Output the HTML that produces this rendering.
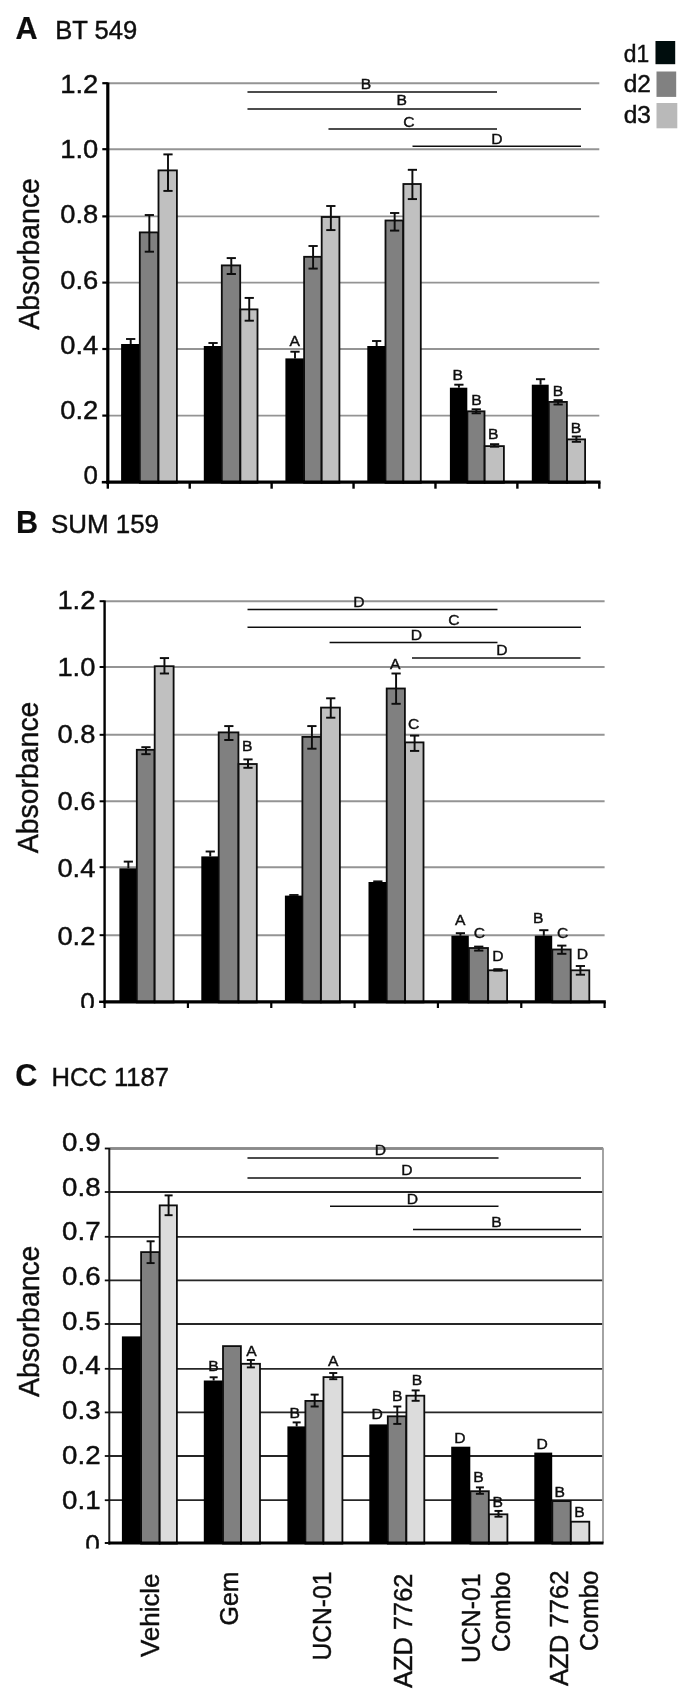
<!DOCTYPE html>
<html><head><meta charset="utf-8"><title>Figure</title>
<style>
html,body{margin:0;padding:0;background:#fff;}
svg{display:block;font-family:"Liberation Sans", sans-serif;}
</style></head><body>
<svg width="685" height="1700" viewBox="0 0 685 1700">
<defs><filter id="soft" x="0" y="0" width="685" height="1700" filterUnits="userSpaceOnUse"><feGaussianBlur stdDeviation="0.45"/></filter></defs>
<rect x="0" y="0" width="685" height="1700" fill="#fff"/>
<g filter="url(#soft)">
<line x1="107.8" y1="415.6" x2="599.3" y2="415.6" stroke="#949494" stroke-width="1.9"/>
<line x1="107.8" y1="349" x2="599.3" y2="349" stroke="#949494" stroke-width="1.9"/>
<line x1="107.8" y1="282.6" x2="599.3" y2="282.6" stroke="#949494" stroke-width="1.9"/>
<line x1="107.8" y1="216.4" x2="599.3" y2="216.4" stroke="#949494" stroke-width="1.9"/>
<line x1="107.8" y1="149.2" x2="599.3" y2="149.2" stroke="#949494" stroke-width="1.9"/>
<line x1="107.8" y1="83.2" x2="599.3" y2="83.2" stroke="#949494" stroke-width="1.9"/>
<rect x="121.1" y="344" width="18.6" height="138.2" fill="#000000"/>
<rect x="139.8" y="232.4" width="18.5" height="250.4" fill="#808080" stroke="#0c0c0c" stroke-width="1.8"/>
<rect x="158.5" y="170.4" width="18.4" height="312.4" fill="#c0c0c0" stroke="#0c0c0c" stroke-width="1.8"/>
<rect x="203.8" y="346" width="17.9" height="136.2" fill="#000000"/>
<rect x="221.8" y="265.4" width="18.4" height="217.4" fill="#808080" stroke="#0c0c0c" stroke-width="1.8"/>
<rect x="240.4" y="309.4" width="17.1" height="173.4" fill="#c0c0c0" stroke="#0c0c0c" stroke-width="1.8"/>
<rect x="285.4" y="358.4" width="18.6" height="123.8" fill="#000000"/>
<rect x="304.1" y="256.8" width="17.4" height="226.0" fill="#808080" stroke="#0c0c0c" stroke-width="1.8"/>
<rect x="321.7" y="217.0" width="17.7" height="265.8" fill="#c0c0c0" stroke="#0c0c0c" stroke-width="1.8"/>
<rect x="367.3" y="346" width="18.1" height="136.2" fill="#000000"/>
<rect x="385.5" y="220.5" width="17.7" height="262.3" fill="#808080" stroke="#0c0c0c" stroke-width="1.8"/>
<rect x="403.4" y="184.0" width="17.4" height="298.8" fill="#c0c0c0" stroke="#0c0c0c" stroke-width="1.8"/>
<rect x="449.9" y="387.7" width="17.4" height="94.5" fill="#000000"/>
<rect x="467.4" y="411.3" width="17.1" height="71.5" fill="#808080" stroke="#0c0c0c" stroke-width="1.8"/>
<rect x="484.7" y="446.1" width="19.2" height="36.7" fill="#c0c0c0" stroke="#0c0c0c" stroke-width="1.8"/>
<rect x="531.8" y="384.7" width="16.9" height="97.5" fill="#000000"/>
<rect x="548.8" y="401.9" width="18.1" height="80.9" fill="#808080" stroke="#0c0c0c" stroke-width="1.8"/>
<rect x="567.1" y="439.4" width="18.0" height="43.4" fill="#c0c0c0" stroke="#0c0c0c" stroke-width="1.8"/>
<line x1="130.7" y1="339" x2="130.7" y2="344" stroke="#080808" stroke-width="1.9"/>
<line x1="126.1" y1="339" x2="135.29999999999998" y2="339" stroke="#080808" stroke-width="1.9"/>
<line x1="149.35" y1="215" x2="149.35" y2="251.7" stroke="#080808" stroke-width="1.9"/>
<line x1="144.75" y1="215" x2="153.95" y2="215" stroke="#080808" stroke-width="1.9"/>
<line x1="144.75" y1="251.7" x2="153.95" y2="251.7" stroke="#080808" stroke-width="1.9"/>
<line x1="168.0" y1="154.4" x2="168.0" y2="190.9" stroke="#080808" stroke-width="1.9"/>
<line x1="163.4" y1="154.4" x2="172.6" y2="154.4" stroke="#080808" stroke-width="1.9"/>
<line x1="163.4" y1="190.9" x2="172.6" y2="190.9" stroke="#080808" stroke-width="1.9"/>
<line x1="213.05" y1="343" x2="213.05" y2="346" stroke="#080808" stroke-width="1.9"/>
<line x1="208.45000000000002" y1="343" x2="217.65" y2="343" stroke="#080808" stroke-width="1.9"/>
<line x1="231.3" y1="258.1" x2="231.3" y2="274" stroke="#080808" stroke-width="1.9"/>
<line x1="226.70000000000002" y1="258.1" x2="235.9" y2="258.1" stroke="#080808" stroke-width="1.9"/>
<line x1="226.70000000000002" y1="274" x2="235.9" y2="274" stroke="#080808" stroke-width="1.9"/>
<line x1="249.25" y1="297.9" x2="249.25" y2="320.7" stroke="#080808" stroke-width="1.9"/>
<line x1="244.65" y1="297.9" x2="253.85" y2="297.9" stroke="#080808" stroke-width="1.9"/>
<line x1="244.65" y1="320.7" x2="253.85" y2="320.7" stroke="#080808" stroke-width="1.9"/>
<line x1="295.0" y1="351.7" x2="295.0" y2="358.4" stroke="#080808" stroke-width="1.9"/>
<line x1="290.4" y1="351.7" x2="299.6" y2="351.7" stroke="#080808" stroke-width="1.9"/>
<line x1="313.1" y1="246" x2="313.1" y2="268.6" stroke="#080808" stroke-width="1.9"/>
<line x1="308.5" y1="246" x2="317.70000000000005" y2="246" stroke="#080808" stroke-width="1.9"/>
<line x1="308.5" y1="268.6" x2="317.70000000000005" y2="268.6" stroke="#080808" stroke-width="1.9"/>
<line x1="330.85" y1="206" x2="330.85" y2="230.1" stroke="#080808" stroke-width="1.9"/>
<line x1="326.25" y1="206" x2="335.45000000000005" y2="206" stroke="#080808" stroke-width="1.9"/>
<line x1="326.25" y1="230.1" x2="335.45000000000005" y2="230.1" stroke="#080808" stroke-width="1.9"/>
<line x1="376.65" y1="341" x2="376.65" y2="346" stroke="#080808" stroke-width="1.9"/>
<line x1="372.04999999999995" y1="341" x2="381.25" y2="341" stroke="#080808" stroke-width="1.9"/>
<line x1="394.65" y1="213" x2="394.65" y2="230.6" stroke="#080808" stroke-width="1.9"/>
<line x1="390.04999999999995" y1="213" x2="399.25" y2="213" stroke="#080808" stroke-width="1.9"/>
<line x1="390.04999999999995" y1="230.6" x2="399.25" y2="230.6" stroke="#080808" stroke-width="1.9"/>
<line x1="412.4" y1="169.8" x2="412.4" y2="199.1" stroke="#080808" stroke-width="1.9"/>
<line x1="407.79999999999995" y1="169.8" x2="417.0" y2="169.8" stroke="#080808" stroke-width="1.9"/>
<line x1="407.79999999999995" y1="199.1" x2="417.0" y2="199.1" stroke="#080808" stroke-width="1.9"/>
<line x1="458.9" y1="384.7" x2="458.9" y2="387.7" stroke="#080808" stroke-width="1.9"/>
<line x1="454.29999999999995" y1="384.7" x2="463.5" y2="384.7" stroke="#080808" stroke-width="1.9"/>
<line x1="476.25" y1="409.3" x2="476.25" y2="413.3" stroke="#080808" stroke-width="1.9"/>
<line x1="471.65" y1="409.3" x2="480.85" y2="409.3" stroke="#080808" stroke-width="1.9"/>
<line x1="471.65" y1="413.3" x2="480.85" y2="413.3" stroke="#080808" stroke-width="1.9"/>
<line x1="494.6" y1="444.2" x2="494.6" y2="446.7" stroke="#080808" stroke-width="1.9"/>
<line x1="490.0" y1="444.2" x2="499.20000000000005" y2="444.2" stroke="#080808" stroke-width="1.9"/>
<line x1="490.0" y1="446.7" x2="499.20000000000005" y2="446.7" stroke="#080808" stroke-width="1.9"/>
<line x1="540.55" y1="379.2" x2="540.55" y2="384.7" stroke="#080808" stroke-width="1.9"/>
<line x1="535.9499999999999" y1="379.2" x2="545.15" y2="379.2" stroke="#080808" stroke-width="1.9"/>
<line x1="558.15" y1="400.2" x2="558.15" y2="404.5" stroke="#080808" stroke-width="1.9"/>
<line x1="553.55" y1="400.2" x2="562.75" y2="400.2" stroke="#080808" stroke-width="1.9"/>
<line x1="553.55" y1="404.5" x2="562.75" y2="404.5" stroke="#080808" stroke-width="1.9"/>
<line x1="576.4" y1="436.5" x2="576.4" y2="441.8" stroke="#080808" stroke-width="1.9"/>
<line x1="571.8" y1="436.5" x2="581.0" y2="436.5" stroke="#080808" stroke-width="1.9"/>
<line x1="571.8" y1="441.8" x2="581.0" y2="441.8" stroke="#080808" stroke-width="1.9"/>
<line x1="107.8" y1="82.4" x2="107.8" y2="483.7" stroke="#000" stroke-width="3.2"/>
<line x1="106.2" y1="482.2" x2="600.5" y2="482.2" stroke="#000" stroke-width="3.2"/>
<line x1="102.3" y1="415.6" x2="107.8" y2="415.6" stroke="#000" stroke-width="2.2"/>
<line x1="102.3" y1="349" x2="107.8" y2="349" stroke="#000" stroke-width="2.2"/>
<line x1="102.3" y1="282.6" x2="107.8" y2="282.6" stroke="#000" stroke-width="2.2"/>
<line x1="102.3" y1="216.4" x2="107.8" y2="216.4" stroke="#000" stroke-width="2.2"/>
<line x1="102.3" y1="149.2" x2="107.8" y2="149.2" stroke="#000" stroke-width="2.2"/>
<line x1="102.3" y1="83.2" x2="107.8" y2="83.2" stroke="#000" stroke-width="2.2"/>
<line x1="101.8" y1="482.2" x2="107.8" y2="482.2" stroke="#000" stroke-width="2.6"/>
<line x1="107.8" y1="482.2" x2="107.8" y2="488.7" stroke="#000" stroke-width="2.4"/>
<line x1="189.72" y1="482.2" x2="189.72" y2="488.7" stroke="#000" stroke-width="2.4"/>
<line x1="271.63" y1="482.2" x2="271.63" y2="488.7" stroke="#000" stroke-width="2.4"/>
<line x1="353.55" y1="482.2" x2="353.55" y2="488.7" stroke="#000" stroke-width="2.4"/>
<line x1="435.47" y1="482.2" x2="435.47" y2="488.7" stroke="#000" stroke-width="2.4"/>
<line x1="517.38" y1="482.2" x2="517.38" y2="488.7" stroke="#000" stroke-width="2.4"/>
<line x1="599.3" y1="482.2" x2="599.3" y2="488.7" stroke="#000" stroke-width="2.4"/>
<text x="97.8" y="484.4" font-size="25" text-anchor="end" fill="#111" stroke="#111" stroke-width="0.45" textLength="14.4" lengthAdjust="spacingAndGlyphs">0</text>
<text x="98.3" y="419.2" font-size="25" text-anchor="end" fill="#111" stroke="#111" stroke-width="0.45" textLength="38" lengthAdjust="spacingAndGlyphs">0.2</text>
<text x="98.3" y="353.9" font-size="25" text-anchor="end" fill="#111" stroke="#111" stroke-width="0.45" textLength="38" lengthAdjust="spacingAndGlyphs">0.4</text>
<text x="98.3" y="288.7" font-size="25" text-anchor="end" fill="#111" stroke="#111" stroke-width="0.45" textLength="38" lengthAdjust="spacingAndGlyphs">0.6</text>
<text x="98.3" y="223.4" font-size="25" text-anchor="end" fill="#111" stroke="#111" stroke-width="0.45" textLength="38" lengthAdjust="spacingAndGlyphs">0.8</text>
<text x="98.3" y="158.3" font-size="25" text-anchor="end" fill="#111" stroke="#111" stroke-width="0.45" textLength="38" lengthAdjust="spacingAndGlyphs">1.0</text>
<text x="98.3" y="92.9" font-size="25" text-anchor="end" fill="#111" stroke="#111" stroke-width="0.45" textLength="38" lengthAdjust="spacingAndGlyphs">1.2</text>
<line x1="247.5" y1="91.9" x2="497" y2="91.9" stroke="#111" stroke-width="1.5"/>
<text x="366" y="88.7" font-size="14.5" text-anchor="middle" fill="#111" stroke="#111" stroke-width="0.4" textLength="10.45" lengthAdjust="spacingAndGlyphs">B</text>
<line x1="247.5" y1="108.9" x2="581" y2="108.9" stroke="#111" stroke-width="1.5"/>
<text x="401.7" y="105.3" font-size="14.5" text-anchor="middle" fill="#111" stroke="#111" stroke-width="0.4" textLength="10.45" lengthAdjust="spacingAndGlyphs">B</text>
<line x1="328.5" y1="128.9" x2="497" y2="128.9" stroke="#111" stroke-width="1.5"/>
<text x="409" y="126.7" font-size="14.5" text-anchor="middle" fill="#111" stroke="#111" stroke-width="0.4" textLength="11.31" lengthAdjust="spacingAndGlyphs">C</text>
<line x1="412.5" y1="146.2" x2="581" y2="146.2" stroke="#111" stroke-width="1.5"/>
<text x="497" y="144" font-size="14.5" text-anchor="middle" fill="#111" stroke="#111" stroke-width="0.4" textLength="11.31" lengthAdjust="spacingAndGlyphs">D</text>
<text x="294.8" y="345.5" font-size="14.5" text-anchor="middle" fill="#111" stroke="#111" stroke-width="0.4" textLength="10.45" lengthAdjust="spacingAndGlyphs">A</text>
<text x="457.8" y="380.2" font-size="14.5" text-anchor="middle" fill="#111" stroke="#111" stroke-width="0.4" textLength="10.45" lengthAdjust="spacingAndGlyphs">B</text>
<text x="476.4" y="405" font-size="14.5" text-anchor="middle" fill="#111" stroke="#111" stroke-width="0.4" textLength="10.45" lengthAdjust="spacingAndGlyphs">B</text>
<text x="493.3" y="438.8" font-size="14.5" text-anchor="middle" fill="#111" stroke="#111" stroke-width="0.4" textLength="10.45" lengthAdjust="spacingAndGlyphs">B</text>
<text x="557.9" y="395.8" font-size="14.5" text-anchor="middle" fill="#111" stroke="#111" stroke-width="0.4" textLength="10.45" lengthAdjust="spacingAndGlyphs">B</text>
<text x="576" y="433" font-size="14.5" text-anchor="middle" fill="#111" stroke="#111" stroke-width="0.4" textLength="10.45" lengthAdjust="spacingAndGlyphs">B</text>
<text x="38.6" y="253.9" font-size="29.6" text-anchor="middle" fill="#111" stroke="#111" stroke-width="0.45" textLength="151.6" lengthAdjust="spacingAndGlyphs" transform="rotate(-90 38.6 253.9)">Absorbance</text>
<text x="15.4" y="39.2" font-size="30.6" text-anchor="start" fill="#111" stroke="#111" stroke-width="0.2" font-weight="bold">A</text>
<text x="55.2" y="39.2" font-size="25.5" text-anchor="start" fill="#111" stroke="#111" stroke-width="0.45" textLength="82" lengthAdjust="spacingAndGlyphs">BT 549</text>
<line x1="104.6" y1="935.2" x2="604.6" y2="935.2" stroke="#949494" stroke-width="1.9"/>
<line x1="104.6" y1="867.2" x2="604.6" y2="867.2" stroke="#949494" stroke-width="1.9"/>
<line x1="104.6" y1="801.3" x2="604.6" y2="801.3" stroke="#949494" stroke-width="1.9"/>
<line x1="104.6" y1="734.8" x2="604.6" y2="734.8" stroke="#949494" stroke-width="1.9"/>
<line x1="104.6" y1="667" x2="604.6" y2="667" stroke="#949494" stroke-width="1.9"/>
<line x1="104.6" y1="601.2" x2="604.6" y2="601.2" stroke="#949494" stroke-width="1.9"/>
<rect x="119.4" y="868.3" width="17.3" height="133.5" fill="#000000"/>
<rect x="136.8" y="749.8" width="17.7" height="252.6" fill="#808080" stroke="#0c0c0c" stroke-width="1.8"/>
<rect x="154.7" y="666.2" width="18.9" height="336.2" fill="#c0c0c0" stroke="#0c0c0c" stroke-width="1.8"/>
<rect x="201.3" y="856.4" width="17.3" height="145.4" fill="#000000"/>
<rect x="218.7" y="732.4" width="19.7" height="270.0" fill="#808080" stroke="#0c0c0c" stroke-width="1.8"/>
<rect x="238.6" y="764.0" width="18.2" height="238.4" fill="#c0c0c0" stroke="#0c0c0c" stroke-width="1.8"/>
<rect x="284.9" y="895.6" width="17.4" height="106.2" fill="#000000"/>
<rect x="302.4" y="736.9" width="18.4" height="265.5" fill="#808080" stroke="#0c0c0c" stroke-width="1.8"/>
<rect x="321.0" y="707.6" width="18.9" height="294.8" fill="#c0c0c0" stroke="#0c0c0c" stroke-width="1.8"/>
<rect x="368.5" y="882" width="18.1" height="119.8" fill="#000000"/>
<rect x="386.7" y="688.5" width="18.2" height="313.9" fill="#808080" stroke="#0c0c0c" stroke-width="1.8"/>
<rect x="405.1" y="742.4" width="18.4" height="260.0" fill="#c0c0c0" stroke="#0c0c0c" stroke-width="1.8"/>
<rect x="451.4" y="935.7" width="17.4" height="66.1" fill="#000000"/>
<rect x="468.9" y="948.0" width="19.1" height="54.4" fill="#808080" stroke="#0c0c0c" stroke-width="1.8"/>
<rect x="488.2" y="970.3" width="18.9" height="32.1" fill="#c0c0c0" stroke="#0c0c0c" stroke-width="1.8"/>
<rect x="534.8" y="935.7" width="17.4" height="66.1" fill="#000000"/>
<rect x="552.3" y="949.5" width="18.4" height="52.9" fill="#808080" stroke="#0c0c0c" stroke-width="1.8"/>
<rect x="570.9" y="970.3" width="18.4" height="32.1" fill="#c0c0c0" stroke="#0c0c0c" stroke-width="1.8"/>
<line x1="128.35" y1="861.6" x2="128.35" y2="868.3" stroke="#080808" stroke-width="1.9"/>
<line x1="123.75" y1="861.6" x2="132.95" y2="861.6" stroke="#080808" stroke-width="1.9"/>
<line x1="145.95" y1="747.2" x2="145.95" y2="754.2" stroke="#080808" stroke-width="1.9"/>
<line x1="141.35" y1="747.2" x2="150.54999999999998" y2="747.2" stroke="#080808" stroke-width="1.9"/>
<line x1="141.35" y1="754.2" x2="150.54999999999998" y2="754.2" stroke="#080808" stroke-width="1.9"/>
<line x1="164.45" y1="658.1" x2="164.45" y2="673.5" stroke="#080808" stroke-width="1.9"/>
<line x1="159.85" y1="658.1" x2="169.04999999999998" y2="658.1" stroke="#080808" stroke-width="1.9"/>
<line x1="159.85" y1="673.5" x2="169.04999999999998" y2="673.5" stroke="#080808" stroke-width="1.9"/>
<line x1="210.25" y1="851.5" x2="210.25" y2="856.4" stroke="#080808" stroke-width="1.9"/>
<line x1="205.65" y1="851.5" x2="214.85" y2="851.5" stroke="#080808" stroke-width="1.9"/>
<line x1="228.85" y1="726.1" x2="228.85" y2="740" stroke="#080808" stroke-width="1.9"/>
<line x1="224.25" y1="726.1" x2="233.45" y2="726.1" stroke="#080808" stroke-width="1.9"/>
<line x1="224.25" y1="740" x2="233.45" y2="740" stroke="#080808" stroke-width="1.9"/>
<line x1="248.0" y1="759.4" x2="248.0" y2="767.8" stroke="#080808" stroke-width="1.9"/>
<line x1="243.4" y1="759.4" x2="252.6" y2="759.4" stroke="#080808" stroke-width="1.9"/>
<line x1="243.4" y1="767.8" x2="252.6" y2="767.8" stroke="#080808" stroke-width="1.9"/>
<line x1="293.9" y1="895" x2="293.9" y2="895.6" stroke="#080808" stroke-width="1.9"/>
<line x1="289.29999999999995" y1="895" x2="298.5" y2="895" stroke="#080808" stroke-width="1.9"/>
<line x1="311.9" y1="726.1" x2="311.9" y2="748.7" stroke="#080808" stroke-width="1.9"/>
<line x1="307.29999999999995" y1="726.1" x2="316.5" y2="726.1" stroke="#080808" stroke-width="1.9"/>
<line x1="307.29999999999995" y1="748.7" x2="316.5" y2="748.7" stroke="#080808" stroke-width="1.9"/>
<line x1="330.75" y1="698.3" x2="330.75" y2="717.7" stroke="#080808" stroke-width="1.9"/>
<line x1="326.15" y1="698.3" x2="335.35" y2="698.3" stroke="#080808" stroke-width="1.9"/>
<line x1="326.15" y1="717.7" x2="335.35" y2="717.7" stroke="#080808" stroke-width="1.9"/>
<line x1="377.85" y1="881.4" x2="377.85" y2="882" stroke="#080808" stroke-width="1.9"/>
<line x1="373.25" y1="881.4" x2="382.45000000000005" y2="881.4" stroke="#080808" stroke-width="1.9"/>
<line x1="396.1" y1="673.5" x2="396.1" y2="703.8" stroke="#080808" stroke-width="1.9"/>
<line x1="391.5" y1="673.5" x2="400.70000000000005" y2="673.5" stroke="#080808" stroke-width="1.9"/>
<line x1="391.5" y1="703.8" x2="400.70000000000005" y2="703.8" stroke="#080808" stroke-width="1.9"/>
<line x1="414.6" y1="735.6" x2="414.6" y2="750.9" stroke="#080808" stroke-width="1.9"/>
<line x1="410.0" y1="735.6" x2="419.20000000000005" y2="735.6" stroke="#080808" stroke-width="1.9"/>
<line x1="410.0" y1="750.9" x2="419.20000000000005" y2="750.9" stroke="#080808" stroke-width="1.9"/>
<line x1="460.4" y1="933.2" x2="460.4" y2="935.7" stroke="#080808" stroke-width="1.9"/>
<line x1="455.79999999999995" y1="933.2" x2="465.0" y2="933.2" stroke="#080808" stroke-width="1.9"/>
<line x1="478.75" y1="946.6" x2="478.75" y2="950.6" stroke="#080808" stroke-width="1.9"/>
<line x1="474.15" y1="946.6" x2="483.35" y2="946.6" stroke="#080808" stroke-width="1.9"/>
<line x1="474.15" y1="950.6" x2="483.35" y2="950.6" stroke="#080808" stroke-width="1.9"/>
<line x1="497.95" y1="969.2" x2="497.95" y2="970.6" stroke="#080808" stroke-width="1.9"/>
<line x1="493.34999999999997" y1="969.2" x2="502.55" y2="969.2" stroke="#080808" stroke-width="1.9"/>
<line x1="493.34999999999997" y1="970.6" x2="502.55" y2="970.6" stroke="#080808" stroke-width="1.9"/>
<line x1="543.8" y1="930.2" x2="543.8" y2="935.7" stroke="#080808" stroke-width="1.9"/>
<line x1="539.1999999999999" y1="930.2" x2="548.4" y2="930.2" stroke="#080808" stroke-width="1.9"/>
<line x1="561.8" y1="945.6" x2="561.8" y2="953.8" stroke="#080808" stroke-width="1.9"/>
<line x1="557.1999999999999" y1="945.6" x2="566.4" y2="945.6" stroke="#080808" stroke-width="1.9"/>
<line x1="557.1999999999999" y1="953.8" x2="566.4" y2="953.8" stroke="#080808" stroke-width="1.9"/>
<line x1="580.4" y1="966" x2="580.4" y2="974.7" stroke="#080808" stroke-width="1.9"/>
<line x1="575.8" y1="966" x2="585.0" y2="966" stroke="#080808" stroke-width="1.9"/>
<line x1="575.8" y1="974.7" x2="585.0" y2="974.7" stroke="#080808" stroke-width="1.9"/>
<line x1="104.6" y1="600.4000000000001" x2="104.6" y2="1003.3" stroke="#000" stroke-width="2.4"/>
<line x1="103.39999999999999" y1="1001.8" x2="605.8000000000001" y2="1001.8" stroke="#000" stroke-width="3.2"/>
<line x1="99.6" y1="935.2" x2="104.6" y2="935.2" stroke="#000" stroke-width="2"/>
<line x1="99.6" y1="867.2" x2="104.6" y2="867.2" stroke="#000" stroke-width="2"/>
<line x1="99.6" y1="801.3" x2="104.6" y2="801.3" stroke="#000" stroke-width="2"/>
<line x1="99.6" y1="734.8" x2="104.6" y2="734.8" stroke="#000" stroke-width="2"/>
<line x1="99.6" y1="667" x2="104.6" y2="667" stroke="#000" stroke-width="2"/>
<line x1="99.6" y1="601.2" x2="104.6" y2="601.2" stroke="#000" stroke-width="2"/>
<line x1="99.1" y1="1001.8" x2="104.6" y2="1001.8" stroke="#000" stroke-width="2.4"/>
<line x1="104.6" y1="1001.8" x2="104.6" y2="1008.3" stroke="#000" stroke-width="2.2"/>
<line x1="187.93" y1="1001.8" x2="187.93" y2="1008.3" stroke="#000" stroke-width="2.2"/>
<line x1="271.27" y1="1001.8" x2="271.27" y2="1008.3" stroke="#000" stroke-width="2.2"/>
<line x1="354.6" y1="1001.8" x2="354.6" y2="1008.3" stroke="#000" stroke-width="2.2"/>
<line x1="437.93" y1="1001.8" x2="437.93" y2="1008.3" stroke="#000" stroke-width="2.2"/>
<line x1="521.27" y1="1001.8" x2="521.27" y2="1008.3" stroke="#000" stroke-width="2.2"/>
<line x1="604.6" y1="1001.8" x2="604.6" y2="1008.3" stroke="#000" stroke-width="2.2"/>
<text x="94.8" y="1011.3" font-size="25.6" text-anchor="end" fill="#111" stroke="#111" stroke-width="0.45" textLength="14.6" lengthAdjust="spacingAndGlyphs">0</text>
<text x="95.4" y="944.5" font-size="25.6" text-anchor="end" fill="#111" stroke="#111" stroke-width="0.45" textLength="38" lengthAdjust="spacingAndGlyphs">0.2</text>
<text x="95.4" y="877.4" font-size="25.6" text-anchor="end" fill="#111" stroke="#111" stroke-width="0.45" textLength="38" lengthAdjust="spacingAndGlyphs">0.4</text>
<text x="95.4" y="810.4" font-size="25.6" text-anchor="end" fill="#111" stroke="#111" stroke-width="0.45" textLength="38" lengthAdjust="spacingAndGlyphs">0.6</text>
<text x="95.4" y="743.3" font-size="25.6" text-anchor="end" fill="#111" stroke="#111" stroke-width="0.45" textLength="38" lengthAdjust="spacingAndGlyphs">0.8</text>
<text x="95.4" y="676.2" font-size="25.6" text-anchor="end" fill="#111" stroke="#111" stroke-width="0.45" textLength="38" lengthAdjust="spacingAndGlyphs">1.0</text>
<text x="95.4" y="609.1" font-size="25.6" text-anchor="end" fill="#111" stroke="#111" stroke-width="0.45" textLength="38" lengthAdjust="spacingAndGlyphs">1.2</text>
<line x1="247.5" y1="609.5" x2="497.5" y2="609.5" stroke="#111" stroke-width="1.5"/>
<text x="359" y="607" font-size="14.5" text-anchor="middle" fill="#111" stroke="#111" stroke-width="0.4" textLength="11.31" lengthAdjust="spacingAndGlyphs">D</text>
<line x1="247.5" y1="627.3" x2="581" y2="627.3" stroke="#111" stroke-width="1.5"/>
<text x="454" y="624.7" font-size="14.5" text-anchor="middle" fill="#111" stroke="#111" stroke-width="0.4" textLength="11.31" lengthAdjust="spacingAndGlyphs">C</text>
<line x1="329.6" y1="642.6" x2="497.5" y2="642.6" stroke="#111" stroke-width="1.5"/>
<text x="416.5" y="640.3" font-size="14.5" text-anchor="middle" fill="#111" stroke="#111" stroke-width="0.4" textLength="11.31" lengthAdjust="spacingAndGlyphs">D</text>
<line x1="412" y1="657.9" x2="580.5" y2="657.9" stroke="#111" stroke-width="1.5"/>
<text x="502" y="655.3" font-size="14.5" text-anchor="middle" fill="#111" stroke="#111" stroke-width="0.4" textLength="11.31" lengthAdjust="spacingAndGlyphs">D</text>
<text x="247.2" y="751.2" font-size="14.5" text-anchor="middle" fill="#111" stroke="#111" stroke-width="0.4" textLength="10.45" lengthAdjust="spacingAndGlyphs">B</text>
<text x="395.3" y="669.3" font-size="14.5" text-anchor="middle" fill="#111" stroke="#111" stroke-width="0.4" textLength="10.45" lengthAdjust="spacingAndGlyphs">A</text>
<text x="413.7" y="729.4" font-size="14.5" text-anchor="middle" fill="#111" stroke="#111" stroke-width="0.4" textLength="11.31" lengthAdjust="spacingAndGlyphs">C</text>
<text x="460.1" y="925" font-size="14.5" text-anchor="middle" fill="#111" stroke="#111" stroke-width="0.4" textLength="10.45" lengthAdjust="spacingAndGlyphs">A</text>
<text x="479.4" y="938.2" font-size="14.5" text-anchor="middle" fill="#111" stroke="#111" stroke-width="0.4" textLength="11.31" lengthAdjust="spacingAndGlyphs">C</text>
<text x="498" y="960.5" font-size="14.5" text-anchor="middle" fill="#111" stroke="#111" stroke-width="0.4" textLength="11.31" lengthAdjust="spacingAndGlyphs">D</text>
<text x="538.3" y="922.5" font-size="14.5" text-anchor="middle" fill="#111" stroke="#111" stroke-width="0.4" textLength="10.45" lengthAdjust="spacingAndGlyphs">B</text>
<text x="562.6" y="938.2" font-size="14.5" text-anchor="middle" fill="#111" stroke="#111" stroke-width="0.4" textLength="11.31" lengthAdjust="spacingAndGlyphs">C</text>
<text x="582.4" y="959.3" font-size="14.5" text-anchor="middle" fill="#111" stroke="#111" stroke-width="0.4" textLength="11.31" lengthAdjust="spacingAndGlyphs">D</text>
<text x="38.0" y="777.4" font-size="29.6" text-anchor="middle" fill="#111" stroke="#111" stroke-width="0.45" textLength="151.6" lengthAdjust="spacingAndGlyphs" transform="rotate(-90 38.0 777.4)">Absorbance</text>
<text x="16" y="533" font-size="30.6" text-anchor="start" fill="#111" stroke="#111" stroke-width="0.2" font-weight="bold">B</text>
<text x="51" y="533" font-size="26" text-anchor="start" fill="#111" stroke="#111" stroke-width="0.45" textLength="108" lengthAdjust="spacingAndGlyphs">SUM 159</text>
<line x1="109.3" y1="1500.2" x2="603" y2="1500.2" stroke="#262626" stroke-width="1.8"/>
<line x1="109.3" y1="1456" x2="603" y2="1456" stroke="#262626" stroke-width="1.8"/>
<line x1="109.3" y1="1412.4" x2="603" y2="1412.4" stroke="#262626" stroke-width="1.8"/>
<line x1="109.3" y1="1368.8" x2="603" y2="1368.8" stroke="#262626" stroke-width="1.8"/>
<line x1="109.3" y1="1324" x2="603" y2="1324" stroke="#262626" stroke-width="1.8"/>
<line x1="109.3" y1="1280.4" x2="603" y2="1280.4" stroke="#262626" stroke-width="1.8"/>
<line x1="109.3" y1="1236.8" x2="603" y2="1236.8" stroke="#262626" stroke-width="1.8"/>
<line x1="109.3" y1="1192" x2="603" y2="1192" stroke="#262626" stroke-width="1.8"/>
<line x1="109.3" y1="1148.5" x2="603" y2="1148.5" stroke="#262626" stroke-width="1.8"/>
<line x1="109.3" y1="1148.5" x2="603.5" y2="1148.5" stroke="#8a8a8a" stroke-width="1.6"/>
<line x1="603" y1="1148.5" x2="603" y2="1543" stroke="#9a9a9a" stroke-width="1.8"/>
<rect x="121.9" y="1336.4" width="19.1" height="206.6" fill="#000000"/>
<rect x="141.1" y="1252.1" width="18.4" height="291.5" fill="#808080" stroke="#0c0c0c" stroke-width="1.8"/>
<rect x="159.7" y="1205.4" width="17.2" height="338.2" fill="#dcdcdc" stroke="#0c0c0c" stroke-width="1.8"/>
<rect x="203.8" y="1380.5" width="19.1" height="162.5" fill="#000000"/>
<rect x="223.0" y="1346.1" width="17.9" height="197.5" fill="#808080" stroke="#0c0c0c" stroke-width="1.8"/>
<rect x="241.1" y="1363.8" width="18.9" height="179.8" fill="#dcdcdc" stroke="#0c0c0c" stroke-width="1.8"/>
<rect x="287.4" y="1426.4" width="17.9" height="116.6" fill="#000000"/>
<rect x="305.4" y="1400.9" width="17.9" height="142.7" fill="#808080" stroke="#0c0c0c" stroke-width="1.8"/>
<rect x="323.5" y="1377.1" width="18.9" height="166.5" fill="#dcdcdc" stroke="#0c0c0c" stroke-width="1.8"/>
<rect x="369.3" y="1424.4" width="18.4" height="118.6" fill="#000000"/>
<rect x="387.8" y="1416.3" width="18.4" height="127.3" fill="#808080" stroke="#0c0c0c" stroke-width="1.8"/>
<rect x="406.4" y="1395.7" width="17.9" height="147.9" fill="#dcdcdc" stroke="#0c0c0c" stroke-width="1.8"/>
<rect x="451.2" y="1446.7" width="19.1" height="96.3" fill="#000000"/>
<rect x="470.4" y="1491.2" width="18.4" height="52.4" fill="#808080" stroke="#0c0c0c" stroke-width="1.8"/>
<rect x="489.0" y="1514.3" width="18.4" height="29.3" fill="#dcdcdc" stroke="#0c0c0c" stroke-width="1.8"/>
<rect x="534.3" y="1452.6" width="17.9" height="90.4" fill="#000000"/>
<rect x="552.3" y="1501.1" width="18.4" height="42.5" fill="#808080" stroke="#0c0c0c" stroke-width="1.8"/>
<rect x="570.9" y="1521.7" width="18.4" height="21.9" fill="#dcdcdc" stroke="#0c0c0c" stroke-width="1.8"/>
<line x1="150.6" y1="1241.3" x2="150.6" y2="1263.1" stroke="#080808" stroke-width="1.9"/>
<line x1="146.6" y1="1241.3" x2="154.6" y2="1241.3" stroke="#080808" stroke-width="1.9"/>
<line x1="146.6" y1="1263.1" x2="154.6" y2="1263.1" stroke="#080808" stroke-width="1.9"/>
<line x1="168.6" y1="1195.4" x2="168.6" y2="1215.2" stroke="#080808" stroke-width="1.9"/>
<line x1="164.6" y1="1195.4" x2="172.6" y2="1195.4" stroke="#080808" stroke-width="1.9"/>
<line x1="164.6" y1="1215.2" x2="172.6" y2="1215.2" stroke="#080808" stroke-width="1.9"/>
<line x1="213.65" y1="1377.3" x2="213.65" y2="1380.5" stroke="#080808" stroke-width="1.9"/>
<line x1="209.65" y1="1377.3" x2="217.65" y2="1377.3" stroke="#080808" stroke-width="1.9"/>
<line x1="250.85" y1="1360" x2="250.85" y2="1367.4" stroke="#080808" stroke-width="1.9"/>
<line x1="246.85" y1="1360" x2="254.85" y2="1360" stroke="#080808" stroke-width="1.9"/>
<line x1="246.85" y1="1367.4" x2="254.85" y2="1367.4" stroke="#080808" stroke-width="1.9"/>
<line x1="296.65" y1="1422.4" x2="296.65" y2="1426.4" stroke="#080808" stroke-width="1.9"/>
<line x1="292.65" y1="1422.4" x2="300.65" y2="1422.4" stroke="#080808" stroke-width="1.9"/>
<line x1="314.65" y1="1394.6" x2="314.65" y2="1406.5" stroke="#080808" stroke-width="1.9"/>
<line x1="310.65" y1="1394.6" x2="318.65" y2="1394.6" stroke="#080808" stroke-width="1.9"/>
<line x1="310.65" y1="1406.5" x2="318.65" y2="1406.5" stroke="#080808" stroke-width="1.9"/>
<line x1="333.25" y1="1373" x2="333.25" y2="1379.2" stroke="#080808" stroke-width="1.9"/>
<line x1="329.25" y1="1373" x2="337.25" y2="1373" stroke="#080808" stroke-width="1.9"/>
<line x1="329.25" y1="1379.2" x2="337.25" y2="1379.2" stroke="#080808" stroke-width="1.9"/>
<line x1="397.3" y1="1406.5" x2="397.3" y2="1423.9" stroke="#080808" stroke-width="1.9"/>
<line x1="393.3" y1="1406.5" x2="401.3" y2="1406.5" stroke="#080808" stroke-width="1.9"/>
<line x1="393.3" y1="1423.9" x2="401.3" y2="1423.9" stroke="#080808" stroke-width="1.9"/>
<line x1="415.65" y1="1390.4" x2="415.65" y2="1400.8" stroke="#080808" stroke-width="1.9"/>
<line x1="411.65" y1="1390.4" x2="419.65" y2="1390.4" stroke="#080808" stroke-width="1.9"/>
<line x1="411.65" y1="1400.8" x2="419.65" y2="1400.8" stroke="#080808" stroke-width="1.9"/>
<line x1="479.9" y1="1487.4" x2="479.9" y2="1493.8" stroke="#080808" stroke-width="1.9"/>
<line x1="475.9" y1="1487.4" x2="483.9" y2="1487.4" stroke="#080808" stroke-width="1.9"/>
<line x1="475.9" y1="1493.8" x2="483.9" y2="1493.8" stroke="#080808" stroke-width="1.9"/>
<line x1="498.5" y1="1510.9" x2="498.5" y2="1516.7" stroke="#080808" stroke-width="1.9"/>
<line x1="494.5" y1="1510.9" x2="502.5" y2="1510.9" stroke="#080808" stroke-width="1.9"/>
<line x1="494.5" y1="1516.7" x2="502.5" y2="1516.7" stroke="#080808" stroke-width="1.9"/>
<line x1="109.3" y1="1148.0" x2="109.3" y2="1544.5" stroke="#1a1a1a" stroke-width="2"/>
<line x1="108.3" y1="1543" x2="603.5" y2="1543" stroke="#000" stroke-width="3.2"/>
<line x1="104.8" y1="1500.2" x2="109.3" y2="1500.2" stroke="#111" stroke-width="1.8"/>
<line x1="104.8" y1="1456" x2="109.3" y2="1456" stroke="#111" stroke-width="1.8"/>
<line x1="104.8" y1="1412.4" x2="109.3" y2="1412.4" stroke="#111" stroke-width="1.8"/>
<line x1="104.8" y1="1368.8" x2="109.3" y2="1368.8" stroke="#111" stroke-width="1.8"/>
<line x1="104.8" y1="1324" x2="109.3" y2="1324" stroke="#111" stroke-width="1.8"/>
<line x1="104.8" y1="1280.4" x2="109.3" y2="1280.4" stroke="#111" stroke-width="1.8"/>
<line x1="104.8" y1="1236.8" x2="109.3" y2="1236.8" stroke="#111" stroke-width="1.8"/>
<line x1="104.8" y1="1192" x2="109.3" y2="1192" stroke="#111" stroke-width="1.8"/>
<line x1="104.8" y1="1148.5" x2="109.3" y2="1148.5" stroke="#111" stroke-width="1.8"/>
<line x1="104.8" y1="1543" x2="109.3" y2="1543" stroke="#111" stroke-width="2"/>
<text x="99.9" y="1553.2" font-size="25.5" text-anchor="end" fill="#111" stroke="#111" stroke-width="0.45" textLength="14.6" lengthAdjust="spacingAndGlyphs">0</text>
<text x="100.6" y="1508.6" font-size="25.5" text-anchor="end" fill="#111" stroke="#111" stroke-width="0.45" textLength="38.5" lengthAdjust="spacingAndGlyphs">0.1</text>
<text x="100.6" y="1463.8" font-size="25.5" text-anchor="end" fill="#111" stroke="#111" stroke-width="0.45" textLength="38.5" lengthAdjust="spacingAndGlyphs">0.2</text>
<text x="100.6" y="1419.1" font-size="25.5" text-anchor="end" fill="#111" stroke="#111" stroke-width="0.45" textLength="38.5" lengthAdjust="spacingAndGlyphs">0.3</text>
<text x="100.6" y="1374.4" font-size="25.5" text-anchor="end" fill="#111" stroke="#111" stroke-width="0.45" textLength="38.5" lengthAdjust="spacingAndGlyphs">0.4</text>
<text x="100.6" y="1329.7" font-size="25.5" text-anchor="end" fill="#111" stroke="#111" stroke-width="0.45" textLength="38.5" lengthAdjust="spacingAndGlyphs">0.5</text>
<text x="100.6" y="1285.0" font-size="25.5" text-anchor="end" fill="#111" stroke="#111" stroke-width="0.45" textLength="38.5" lengthAdjust="spacingAndGlyphs">0.6</text>
<text x="100.6" y="1240.2" font-size="25.5" text-anchor="end" fill="#111" stroke="#111" stroke-width="0.45" textLength="38.5" lengthAdjust="spacingAndGlyphs">0.7</text>
<text x="100.6" y="1195.5" font-size="25.5" text-anchor="end" fill="#111" stroke="#111" stroke-width="0.45" textLength="38.5" lengthAdjust="spacingAndGlyphs">0.8</text>
<text x="100.6" y="1150.8" font-size="25.5" text-anchor="end" fill="#111" stroke="#111" stroke-width="0.45" textLength="38.5" lengthAdjust="spacingAndGlyphs">0.9</text>
<line x1="247.5" y1="1158" x2="498.5" y2="1158" stroke="#111" stroke-width="1.5"/>
<text x="380.5" y="1155.3" font-size="14.5" text-anchor="middle" fill="#111" stroke="#111" stroke-width="0.4" textLength="11.31" lengthAdjust="spacingAndGlyphs">D</text>
<line x1="247.5" y1="1178" x2="581" y2="1178" stroke="#111" stroke-width="1.5"/>
<text x="407" y="1175.3" font-size="14.5" text-anchor="middle" fill="#111" stroke="#111" stroke-width="0.4" textLength="11.31" lengthAdjust="spacingAndGlyphs">D</text>
<line x1="330" y1="1206.3" x2="498.5" y2="1206.3" stroke="#111" stroke-width="1.5"/>
<text x="412.5" y="1203.6" font-size="14.5" text-anchor="middle" fill="#111" stroke="#111" stroke-width="0.4" textLength="11.31" lengthAdjust="spacingAndGlyphs">D</text>
<line x1="413" y1="1229.5" x2="581" y2="1229.5" stroke="#111" stroke-width="1.5"/>
<text x="496.5" y="1226.8" font-size="14.5" text-anchor="middle" fill="#111" stroke="#111" stroke-width="0.4" textLength="10.45" lengthAdjust="spacingAndGlyphs">B</text>
<text x="213.5" y="1370.6" font-size="14.5" text-anchor="middle" fill="#111" stroke="#111" stroke-width="0.4" textLength="10.45" lengthAdjust="spacingAndGlyphs">B</text>
<text x="251.4" y="1355.7" font-size="14.5" text-anchor="middle" fill="#111" stroke="#111" stroke-width="0.4" textLength="10.45" lengthAdjust="spacingAndGlyphs">A</text>
<text x="294.8" y="1417.7" font-size="14.5" text-anchor="middle" fill="#111" stroke="#111" stroke-width="0.4" textLength="10.45" lengthAdjust="spacingAndGlyphs">B</text>
<text x="333.3" y="1366" font-size="14.5" text-anchor="middle" fill="#111" stroke="#111" stroke-width="0.4" textLength="10.45" lengthAdjust="spacingAndGlyphs">A</text>
<text x="377.2" y="1418.9" font-size="14.5" text-anchor="middle" fill="#111" stroke="#111" stroke-width="0.4" textLength="11.31" lengthAdjust="spacingAndGlyphs">D</text>
<text x="397.1" y="1400.8" font-size="14.5" text-anchor="middle" fill="#111" stroke="#111" stroke-width="0.4" textLength="10.45" lengthAdjust="spacingAndGlyphs">B</text>
<text x="417" y="1384.7" font-size="14.5" text-anchor="middle" fill="#111" stroke="#111" stroke-width="0.4" textLength="10.45" lengthAdjust="spacingAndGlyphs">B</text>
<text x="459.8" y="1443.4" font-size="14.5" text-anchor="middle" fill="#111" stroke="#111" stroke-width="0.4" textLength="11.31" lengthAdjust="spacingAndGlyphs">D</text>
<text x="478.5" y="1481.9" font-size="14.5" text-anchor="middle" fill="#111" stroke="#111" stroke-width="0.4" textLength="10.45" lengthAdjust="spacingAndGlyphs">B</text>
<text x="497.6" y="1506.7" font-size="14.5" text-anchor="middle" fill="#111" stroke="#111" stroke-width="0.4" textLength="10.45" lengthAdjust="spacingAndGlyphs">B</text>
<text x="542.2" y="1448.9" font-size="14.5" text-anchor="middle" fill="#111" stroke="#111" stroke-width="0.4" textLength="11.31" lengthAdjust="spacingAndGlyphs">D</text>
<text x="559.6" y="1497.3" font-size="14.5" text-anchor="middle" fill="#111" stroke="#111" stroke-width="0.4" textLength="10.45" lengthAdjust="spacingAndGlyphs">B</text>
<text x="579.5" y="1516.7" font-size="14.5" text-anchor="middle" fill="#111" stroke="#111" stroke-width="0.4" textLength="10.45" lengthAdjust="spacingAndGlyphs">B</text>
<text x="38.8" y="1321.3" font-size="29.6" text-anchor="middle" fill="#111" stroke="#111" stroke-width="0.45" textLength="151.4" lengthAdjust="spacingAndGlyphs" transform="rotate(-90 38.8 1321.3)">Absorbance</text>
<text x="15.2" y="1085.8" font-size="30.6" text-anchor="start" fill="#111" stroke="#111" stroke-width="0.2" font-weight="bold">C</text>
<text x="51.5" y="1085.8" font-size="26" text-anchor="start" fill="#111" stroke="#111" stroke-width="0.45" textLength="117.5" lengthAdjust="spacingAndGlyphs">HCC 1187</text>
<rect x="0" y="1008" width="685" height="30" fill="#fff"/>
<rect x="0" y="1548.6" width="685" height="20" fill="#fff"/>
<rect x="655.5" y="41" width="19.7" height="23.2" fill="#050c0a"/>
<rect x="656.5" y="71.5" width="19.7" height="25.4" fill="#818181"/>
<rect x="656.5" y="103" width="20.8" height="25.3" fill="#b9b9b9"/>
<text x="623.7" y="62.3" font-size="24.2" text-anchor="start" fill="#111" stroke="#111" stroke-width="0.45" textLength="25.4" lengthAdjust="spacingAndGlyphs">d1</text>
<text x="623.7" y="92.3" font-size="24.2" text-anchor="start" fill="#111" stroke="#111" stroke-width="0.45" textLength="27.2" lengthAdjust="spacingAndGlyphs">d2</text>
<text x="623.7" y="122.9" font-size="24.2" text-anchor="start" fill="#111" stroke="#111" stroke-width="0.45" textLength="27.2" lengthAdjust="spacingAndGlyphs">d3</text>
<text x="158.8" y="1573.5" font-size="26" text-anchor="end" fill="#111" stroke="#111" stroke-width="0.45" textLength="83.5" lengthAdjust="spacingAndGlyphs" transform="rotate(-90 158.8 1573.5)">Vehicle</text>
<text x="237.5" y="1571.5" font-size="26" text-anchor="end" fill="#111" stroke="#111" stroke-width="0.45" textLength="54" lengthAdjust="spacingAndGlyphs" transform="rotate(-90 237.5 1571.5)">Gem</text>
<text x="331.4" y="1571.5" font-size="26" text-anchor="end" fill="#111" stroke="#111" stroke-width="0.45" textLength="89" lengthAdjust="spacingAndGlyphs" transform="rotate(-90 331.4 1571.5)">UCN-01</text>
<text x="411.9" y="1573.5" font-size="26" text-anchor="end" fill="#111" stroke="#111" stroke-width="0.45" textLength="114.5" lengthAdjust="spacingAndGlyphs" transform="rotate(-90 411.9 1573.5)">AZD 7762</text>
<text x="479.5" y="1573.5" font-size="26" text-anchor="end" fill="#111" stroke="#111" stroke-width="0.45" textLength="89.5" lengthAdjust="spacingAndGlyphs" transform="rotate(-90 479.5 1573.5)">UCN-01</text>
<text x="510.2" y="1571.5" font-size="26" text-anchor="end" fill="#111" stroke="#111" stroke-width="0.45" textLength="80.5" lengthAdjust="spacingAndGlyphs" transform="rotate(-90 510.2 1571.5)">Combo</text>
<text x="567.5" y="1570.5" font-size="26" text-anchor="end" fill="#111" stroke="#111" stroke-width="0.45" textLength="115.5" lengthAdjust="spacingAndGlyphs" transform="rotate(-90 567.5 1570.5)">AZD 7762</text>
<text x="598.3" y="1570.5" font-size="26" text-anchor="end" fill="#111" stroke="#111" stroke-width="0.45" textLength="80.5" lengthAdjust="spacingAndGlyphs" transform="rotate(-90 598.3 1570.5)">Combo</text>
</g>
</svg>
</body></html>
